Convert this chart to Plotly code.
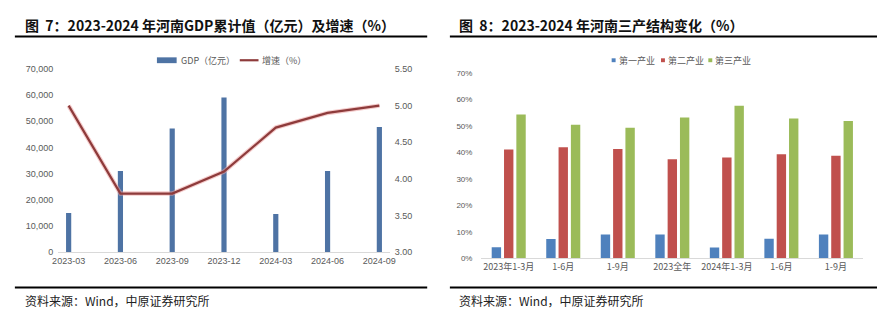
import plotly.graph_objects as go

# ---------------- data ----------------
gdp_periods = ["2023-03", "2023-06", "2023-09", "2023-12", "2024-03", "2024-06", "2024-09"]
gdp_values = [14969, 31000, 47300, 59132, 14600, 31000, 47800]   # 亿元
growth_rates = [5.0, 3.8, 3.8, 4.1, 4.7, 4.9, 5.0]              # %

struct_labels = ["2023年1-3月", "1-6月", "1-9月", "2023全年", "2024年1-3月", "1-6月", "1-9月"]
primary = [0.042, 0.073, 0.090, 0.090, 0.041, 0.074, 0.090]
secondary = [0.411, 0.419, 0.413, 0.374, 0.381, 0.393, 0.387]
tertiary = [0.543, 0.504, 0.493, 0.532, 0.576, 0.528, 0.518]

W, H = 883, 326
def px_x(v): return v / W
def px_y(v): return 1 - v / H

TICK_FONT = dict(family="Liberation Sans, Arial, sans-serif", size=9, color="#595959")
CJK = "Noto Sans CJK SC, sans-serif"
GDP_COLOR = "#4E73A4"
LINE_COLOR = "#8E3B3B"
IND_COLORS = ["#4F81BD", "#C0504D", "#9BBB59"]

fig = go.Figure()

# ---- left chart ----
fig.add_trace(go.Bar(
    x=gdp_periods, y=gdp_values, name="GDP（亿元）",
    marker=dict(color=GDP_COLOR, line=dict(width=0)),
    width=0.1, xaxis="x", yaxis="y", showlegend=False,
))
fig.add_trace(go.Scatter(
    x=gdp_periods, y=growth_rates, mode="lines", showlegend=False,
    line=dict(color="rgba(235,160,160,0.55)", width=4.5),
    xaxis="x", yaxis="y2", hoverinfo="skip",
))
fig.add_trace(go.Scatter(
    x=gdp_periods, y=growth_rates, mode="lines", name="增速（%）",
    line=dict(color=LINE_COLOR, width=2.2),
    xaxis="x", yaxis="y2", showlegend=False,
))

# ---- right chart ----
xpos = list(range(len(struct_labels)))
bw = 0.172
step = 0.226
ind_names = ["第一产业", "第二产业", "第三产业"]
for i, vals in enumerate([primary, secondary, tertiary]):
    fig.add_trace(go.Bar(
        x=xpos, y=vals, name=ind_names[i], marker=dict(color=IND_COLORS[i], line=dict(width=0)),
        width=bw, offset=(i - 1) * step - bw / 2,
        xaxis="x2", yaxis="y3", showlegend=False,
    ))

fig.update_layout(
    width=W, height=H, margin=dict(l=0, r=0, t=0, b=0),
    paper_bgcolor="white", plot_bgcolor="white",
    barmode="overlay", showlegend=False,
    xaxis=dict(
        domain=[px_x(53), px_x(389)], type="category", range=[-0.2, 6.2],
        showgrid=False, zeroline=False, showline=True, linecolor="#D9D9D9", linewidth=1,
        ticks="", tickfont=TICK_FONT, anchor="y", fixedrange=True,
    ),
    yaxis=dict(
        domain=[px_y(255), px_y(66)], range=[0, 70000], tickvals=list(range(0, 70001, 10000)),
        tickformat=",", showgrid=False, zeroline=False, showline=False, ticks="",
        tickfont=TICK_FONT, anchor="x", ticklabelstandoff=4,
    ),
    yaxis2=dict(
        overlaying="y", side="right", range=[3, 5.5], tickvals=[3, 3.5, 4, 4.5, 5, 5.5],
        tickformat=".2f", showgrid=False, zeroline=False, showline=False, ticks="",
        tickfont=TICK_FONT, anchor="x", ticklabelstandoff=4,
    ),
    xaxis2=dict(
        domain=[px_x(482), px_x(869)], range=[-0.5, 6.5], tickvals=xpos, ticktext=struct_labels,
        showgrid=False, zeroline=False, showline=True, linecolor="#D9D9D9", linewidth=1,
        ticks="", tickfont=dict(family=CJK, size=9, color="#595959"), anchor="y3",
    ),
    yaxis3=dict(
        domain=[px_y(261.5), px_y(70)], range=[0, 0.7], tickvals=[i / 10 for i in range(8)],
        tickformat=".0%", showgrid=False, zeroline=False, showline=False, ticks="",
        tickfont=dict(family="Liberation Sans, Arial, sans-serif", size=8, color="#595959"),
        anchor="x2", ticklabelstandoff=8,
    ),
)

LEG_FONT = dict(family=CJK, size=9, color="#595959")
LEG_Y = 57

# left legend (drawn)
fig.add_shape(type="rect", xref="paper", yref="paper",
              x0=px_x(153), x1=px_x(173), y0=px_y(LEG_Y + 3), y1=px_y(LEG_Y - 3),
              fillcolor=GDP_COLOR, line=dict(width=0))
fig.add_annotation(x=px_x(175), y=px_y(LEG_Y), xref="paper", yref="paper",
                   xanchor="left", yanchor="middle", text="GDP（亿元）", showarrow=False,
                   font=LEG_FONT)
fig.add_shape(type="line", xref="paper", yref="paper",
              x0=px_x(237), x1=px_x(256), y0=px_y(LEG_Y), y1=px_y(LEG_Y),
              line=dict(color=LINE_COLOR, width=2.2))
fig.add_annotation(x=px_x(257), y=px_y(LEG_Y), xref="paper", yref="paper",
                   xanchor="left", yanchor="middle", text="增速（%）", showarrow=False,
                   font=LEG_FONT)

# right legend (drawn)
for i, lx in enumerate([614, 664, 712]):
    fig.add_shape(type="rect", xref="paper", yref="paper",
                  x0=px_x(lx), x1=px_x(lx + 4), y0=px_y(LEG_Y + 2), y1=px_y(LEG_Y - 2),
                  fillcolor=IND_COLORS[i], line=dict(width=0))
    fig.add_annotation(x=px_x(lx + 5), y=px_y(LEG_Y), xref="paper", yref="paper",
                       xanchor="left", yanchor="middle", text=ind_names[i], showarrow=False,
                       font=LEG_FONT)

# titles, rules, sources
for x0, x1, tx, title in [
    (9, 427, 17, "图&nbsp;&nbsp;7：2023-2024 年河南GDP累计值（亿元）及增速（%）"),
    (450, 883, 457, "图&nbsp;&nbsp;8：2023-2024 年河南三产结构变化（%）"),
]:
    fig.add_annotation(
        x=px_x(tx), y=px_y(21), xref="paper", yref="paper", xanchor="left", yanchor="middle",
        text="<b>" + title + "</b>", showarrow=False,
        font=dict(family=CJK, size=14, color="#111111"),
    )
    fig.add_shape(type="line", xref="paper", yref="paper", x0=px_x(x0), x1=px_x(x1),
                  y0=px_y(32.5), y1=px_y(32.5), line=dict(color="black", width=2))
    fig.add_shape(type="line", xref="paper", yref="paper", x0=px_x(x0), x1=px_x(x1),
                  y0=px_y(291.5), y1=px_y(291.5), line=dict(color="black", width=2))
    fig.add_annotation(
        x=px_x(tx), y=px_y(305), xref="paper", yref="paper", xanchor="left", yanchor="middle",
        text="资料来源：Wind，中原证券研究所", showarrow=False,
        font=dict(family=CJK, size=12, color="#222222"),
    )

fig.write_html("out.html")
